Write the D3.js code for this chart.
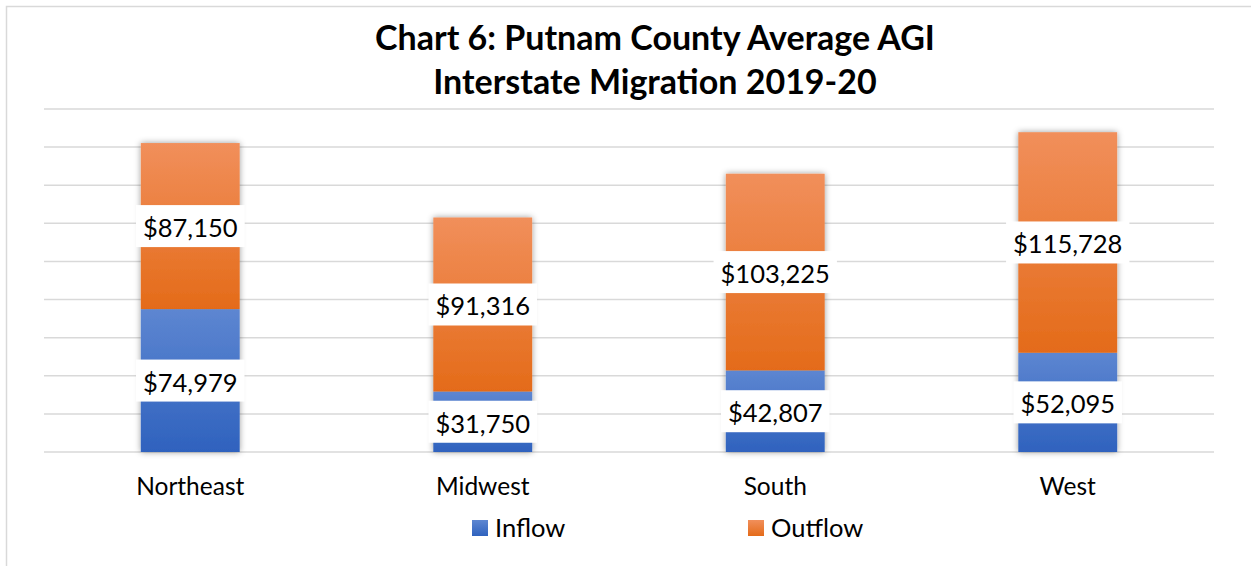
<!DOCTYPE html>
<html>
<head>
<meta charset="utf-8">
<script src="https://cdn.jsdelivr.net/npm/d3@7"></script>
<style>
  body { margin: 0; background: #fff; }
  svg { display: block; font-family: Lato, "Open Sans", sans-serif; }
</style>
</head>
<body>
<svg id="chart" width="1251" height="566"></svg>
<script>
const regions = ["Northeast", "Midwest", "South", "West"];
const inflow = [74979, 31750, 42807, 52095];
const outflow = [87150, 91316, 103225, 115728];
const seriesNames = ["Inflow", "Outflow"];
const yTicks = [0, 20000, 40000, 60000, 80000, 100000, 120000, 140000, 160000, 180000];

const svg = d3.select("#chart");
const margin = { left: 44, right: 1214, top: 109, bottom: 452 };

// chart frame
svg.append("rect")
  .attr("x", 6.5).attr("y", 6.5)
  .attr("width", 1260).attr("height", 580)
  .attr("fill", "#fff").attr("stroke", "#d9d9d9").attr("stroke-width", 1.5);

const defs = svg.append("defs");
function grad(id, top, bottom) {
  const g = defs.append("linearGradient").attr("id", id)
    .attr("x1", 0).attr("y1", 0).attr("x2", 0).attr("y2", 1);
  g.append("stop").attr("offset", "0%").attr("stop-color", top);
  g.append("stop").attr("offset", "100%").attr("stop-color", bottom);
}
grad("gInflow", "#5d86d1", "#2f62be");
grad("gOutflow", "#f18f5b", "#e46b19");
const f = defs.append("filter").attr("id", "shadow")
  .attr("x", "-20%").attr("y", "-5%").attr("width", "140%").attr("height", "110%");
f.append("feDropShadow").attr("dx", 0).attr("dy", 0).attr("stdDeviation", 3)
  .attr("flood-color", "#000").attr("flood-opacity", 0.4);

const x = d3.scaleBand().domain(regions).range([margin.left, margin.right]).paddingInner(0.662).paddingOuter(0.331);
const y = d3.scaleLinear().domain([0, 180000]).range([margin.bottom, margin.top]);

// gridlines
svg.append("g").selectAll("line").data(yTicks).join("line")
  .attr("x1", margin.left).attr("x2", margin.right)
  .attr("y1", d => y(d)).attr("y2", d => y(d))
  .attr("stroke", "#d9d9d9").attr("stroke-width", 1.5);

// title
const title = svg.append("text").attr("text-anchor", "middle")
  .attr("font-weight", "bold").attr("font-size", 34).attr("fill", "#000");
title.append("tspan").attr("x", 655).attr("y", 50).text("Chart 6: Putnam County Average AGI");
title.append("tspan").attr("x", 655).attr("y", 94).text("Interstate Migration 2019-20");

const data = regions.map((r, i) => ({ region: r, Inflow: inflow[i], Outflow: outflow[i] }));
const stack = d3.stack().keys(seriesNames)(data);
const fills = { Inflow: "url(#gInflow)", Outflow: "url(#gOutflow)" };

const barG = svg.append("g").attr("filter", "url(#shadow)");
stack.forEach(s => {
  barG.append("g").selectAll("rect").data(s).join("rect")
    .attr("x", d => x(d.data.region))
    .attr("width", x.bandwidth())
    .attr("y", d => y(d[1]))
    .attr("height", d => y(d[0]) - y(d[1]))
    .attr("fill", fills[s.key]);
});

// data labels
const fmt = d3.format("$,");
stack.forEach(s => {
  s.forEach(d => {
    const cx = x(d.data.region) + x.bandwidth() / 2;
    const cy = (y(d[0]) + y(d[1])) / 2;
    const g = svg.append("g");
    const box = g.append("rect").attr("fill", "#fff");
    const t = g.append("text").attr("x", cx).attr("y", cy + 1)
      .attr("text-anchor", "middle").attr("dominant-baseline", "central")
      .attr("font-size", 25.5).attr("fill", "#000").text(fmt(d.data[s.key]));
    const bb = t.node().getBBox();
    box.attr("x", bb.x - 7).attr("y", cy - 21).attr("width", bb.width + 14).attr("height", 42);
  });
});

// x axis labels
svg.append("g").selectAll("text").data(regions).join("text")
  .attr("x", d => x(d) + x.bandwidth() / 2).attr("y", 495)
  .attr("text-anchor", "middle").attr("font-size", 24.5).attr("fill", "#000")
  .text(d => d);

// legend
const legendX = [472, 748];
const lg = svg.append("g").selectAll("g").data(seriesNames).join("g")
  .attr("transform", (d, i) => `translate(${legendX[i]},520)`);
lg.append("rect").attr("width", 16).attr("height", 16).attr("fill", d => fills[d]);
lg.append("text").attr("x", 23).attr("y", 17).attr("font-size", 25.5).attr("fill", "#000").text(d => d);
</script>
</body>
</html>
